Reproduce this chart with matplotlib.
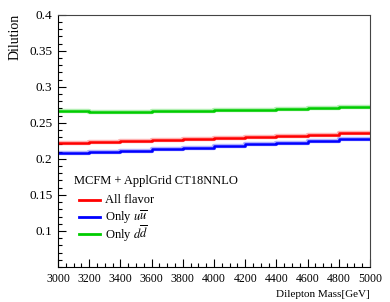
import numpy as np
import matplotlib
matplotlib.use('Agg')
import matplotlib.pyplot as plt
from matplotlib.lines import Line2D

plt.rcParams['font.family'] = ['Liberation Serif', 'DejaVu Serif']
plt.rcParams['mathtext.fontset'] = 'stix'

# bin edges in GeV (10 bins of 200)
edges = [3000, 3200, 3400, 3600, 3800, 4000, 4200, 4400, 4600, 4800, 5000]
all_flavor = [0.2214, 0.2228, 0.2243, 0.2258, 0.2270, 0.2285, 0.2300, 0.2318, 0.2335, 0.2356]
only_uu = [0.2076, 0.2095, 0.2115, 0.2135, 0.2155, 0.2175, 0.2200, 0.2225, 0.2250, 0.2280]
only_dd = [0.2658, 0.2655, 0.2657, 0.2665, 0.2665, 0.2672, 0.2675, 0.2690, 0.2700, 0.2715]
labels = ['All flavor', r'Only $u\overline{u}$', r'Only $d\overline{d}$']
colors = ['#ff0000', '#0000ff', '#00cc00']

W, H = 390, 302
fig = plt.figure(figsize=(W / 100, H / 100), dpi=100)
ax = fig.add_axes([0.1487, 0.116, 0.80, 0.8353])

for vals, col in zip([all_flavor, only_uu, only_dd], colors):
    y = list(vals) + [vals[-1]]
    ax.step(edges, y, where='post', color=col, lw=3.2, alpha=0.3)
    ax.step(edges, y, where='post', color=col, lw=1.8)

ax.set_xlim(3000, 5000)
ax.set_ylim(0.05, 0.4)
ax.set_xticks(np.arange(3000, 5001, 200))
ax.set_xticks(np.arange(3000, 5001, 50), minor=True)
ax.set_yticks([0.1, 0.15, 0.2, 0.25, 0.3, 0.35, 0.4])
ax.set_yticklabels(['0.1', '0.15', '0.2', '0.25', '0.3', '0.35', '0.4'])
ax.set_yticks(np.arange(0.05, 0.401, 0.01), minor=True)
ax.tick_params(direction='in', which='major', length=6, width=0.8)
ax.tick_params(direction='in', which='minor', length=3, width=0.8)
ax.tick_params(axis='x', labelsize=8.5, pad=4)
ax.tick_params(axis='y', labelsize=9.5, pad=4)
for s in ['top', 'right']:
    ax.spines[s].set_color('#444444')

ax.set_xlabel('Dilepton Mass[GeV]', fontsize=8, loc='right', labelpad=4)
fig.text(15 / W, 1 - 14 / H, 'Dilution', rotation=90, fontsize=10,
         ha='center', va='top')

# legend drawn by hand (ROOT TLegend style)
fig.text(74 / W, 1 - 181 / H, 'MCFM + ApplGrid CT18NNLO', fontsize=9,
         ha='left', va='center')
for i, (lab, col) in enumerate(zip(labels, colors)):
    yy = 1 - (200 + 17 * i) / H
    fig.add_artist(Line2D([79 / W, 100 / W], [yy, yy], color=col, lw=2,
                          transform=fig.transFigure))
    fig.text(105 / W, yy, lab, fontsize=9, ha='left', va='center')

fig.savefig('out.png', dpi=100)
